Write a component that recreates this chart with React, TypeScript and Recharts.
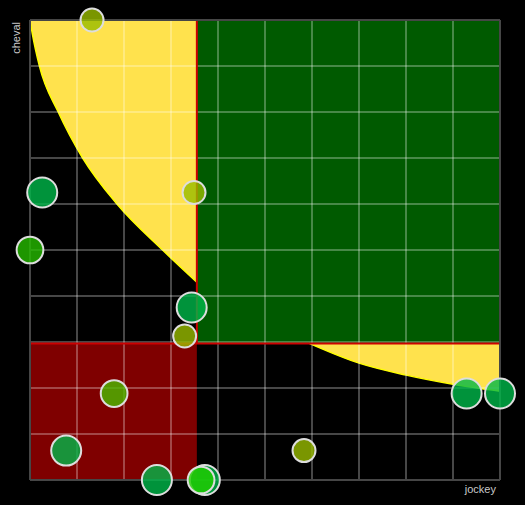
import {
  Area,
  Cell,
  ComposedChart,
  ReferenceArea,
  ReferenceLine,
  Scatter,
  XAxis,
  YAxis,
  ZAxis,
} from "recharts"

// axis ticks (grid), both axes 0..10
const ticks = [0, 1, 2, 3, 4, 5, 6, 7, 8, 9, 10]

// quadrant thresholds
const jockeyThreshold = 3.55
const chevalThreshold = 2.97
const axisMax = 10

// yellow boundary curves
const topCurveJockey = [0, 0.05, 0.2, 0.6, 1.12, 1.85, 2.82, 3.55]
const topCurveCheval = [10, 9.7, 9, 8, 7, 6, 5, 4.3]
const bottomCurveJockey = [5.94, 7, 8, 9, 10]
const bottomCurveCheval = [2.97, 2.54, 2.28, 2.08, 1.93]

// bubbles
const bubbleJockey = [1.32, 0.26, 0, 3.49, 3.44, 3.29, 1.79, 0.77, 2.7, 3.72, 3.64, 5.83, 9.29, 10]
const bubbleCheval = [10, 6.25, 5, 6.25, 3.75, 3.13, 1.88, 0.64, 0, 0, 0, 0.64, 1.88, 1.88]
const bubbleWeight = [1, 3, 2, 1, 3, 1, 2, 3, 3, 3, 2, 1, 3, 3]
const bubbleColor = [
  "#98bc00", "#00b84a", "#26bc00", "#98bc00", "#00b84a", "#98bc00", "#4bbc00",
  "#00b84a", "#00b84a", "#00b84a", "#20d000", "#98bc00", "#00b84a", "#00b84a",
]

const topBand = topCurveJockey.map((x, i) => ({ x, y: topCurveCheval[i] }))
const bottomBand = bottomCurveJockey.map((x, i) => ({ x, y: bottomCurveCheval[i] }))
const bubbles = bubbleJockey.map((x, i) => ({ x, y: bubbleCheval[i], z: bubbleWeight[i] }))

const gridStroke = "rgba(255,255,255,0.28)"
const frameStroke = "#464646"
const font = "'Liberation Sans', Arial, sans-serif"

export default function App() {
  const inner = ticks.filter((t) => t > 0 && t < axisMax)
  return (
    <div style={{ position: "absolute", left: 0, top: 0, width: 525, height: 505, background: "#000" }}>
      <ComposedChart width={525} height={505} margin={{ top: 20, right: 25, bottom: 25, left: 30 }}>
        <XAxis type="number" dataKey="x" domain={[0, axisMax]} ticks={ticks} hide />
        <YAxis type="number" dataKey="y" domain={[0, axisMax]} ticks={ticks} hide />
        <ZAxis type="number" dataKey="z" domain={[1, 3]} range={[415, 707]} />

        <ReferenceArea
          x1={jockeyThreshold}
          x2={axisMax}
          y1={chevalThreshold}
          y2={axisMax}
          fill="#005a00"
          fillOpacity={1}
          stroke="none"
          zIndex={50}
        />
        <ReferenceArea
          x1={0}
          x2={jockeyThreshold}
          y1={0}
          y2={chevalThreshold}
          fill="#7f0000"
          fillOpacity={1}
          stroke="none"
          zIndex={50}
        />

        <Area
          data={topBand}
          dataKey="y"
          type="monotone"
          baseValue={axisMax}
          fill="#ffe24d"
          fillOpacity={1}
          stroke="#ffff00"
          strokeWidth={1.5}
          isAnimationActive={false}
          zIndex={100}
        />
        <Area
          data={bottomBand}
          dataKey="y"
          type="monotone"
          baseValue={chevalThreshold}
          fill="#ffe24d"
          fillOpacity={1}
          stroke="#ffff00"
          strokeWidth={1.5}
          isAnimationActive={false}
          zIndex={100}
        />

        {inner.map((t) => (
          <ReferenceLine key={`v${t}`} x={t} stroke={gridStroke} strokeWidth={2} zIndex={150} />
        ))}
        {inner.map((t) => (
          <ReferenceLine key={`h${t}`} y={t} stroke={gridStroke} strokeWidth={2} zIndex={150} />
        ))}

        <ReferenceLine y={chevalThreshold} stroke="#cc0000" strokeWidth={2} zIndex={200} />
        <ReferenceLine
          segment={[
            { x: jockeyThreshold, y: chevalThreshold },
            { x: jockeyThreshold, y: axisMax },
          ]}
          stroke="#cc0000"
          strokeWidth={2}
          zIndex={200}
        />

        <ReferenceLine x={0} stroke={frameStroke} strokeWidth={2} zIndex={250} />
        <ReferenceLine x={axisMax} stroke={frameStroke} strokeWidth={2} zIndex={250} />
        <ReferenceLine y={0} stroke={frameStroke} strokeWidth={2} zIndex={250} />
        <ReferenceLine y={axisMax} stroke={frameStroke} strokeWidth={2} zIndex={250} />

        <Scatter
          data={bubbles}
          dataKey="y"
          fillOpacity={0.8}
          stroke="#dddddd"
          strokeWidth={2}
          isAnimationActive={false}
          zIndex={600}
        >
          {bubbles.map((b, i) => (
            <Cell key={i} fill={bubbleColor[i]} />
          ))}
        </Scatter>
      </ComposedChart>

      <svg
        width={525}
        height={505}
        style={{ position: "absolute", left: 0, top: 0, pointerEvents: "none" }}
      >
        <text
          x={20}
          y={22}
          transform="rotate(-90 20 22)"
          textAnchor="end"
          fill="#c8c8c8"
          fontSize={11}
          fontFamily={font}
        >
          cheval
        </text>
        <text x={496} y={493} textAnchor="end" fill="#c8c8c8" fontSize={11} fontFamily={font}>
          jockey
        </text>
      </svg>
    </div>
  )
}
